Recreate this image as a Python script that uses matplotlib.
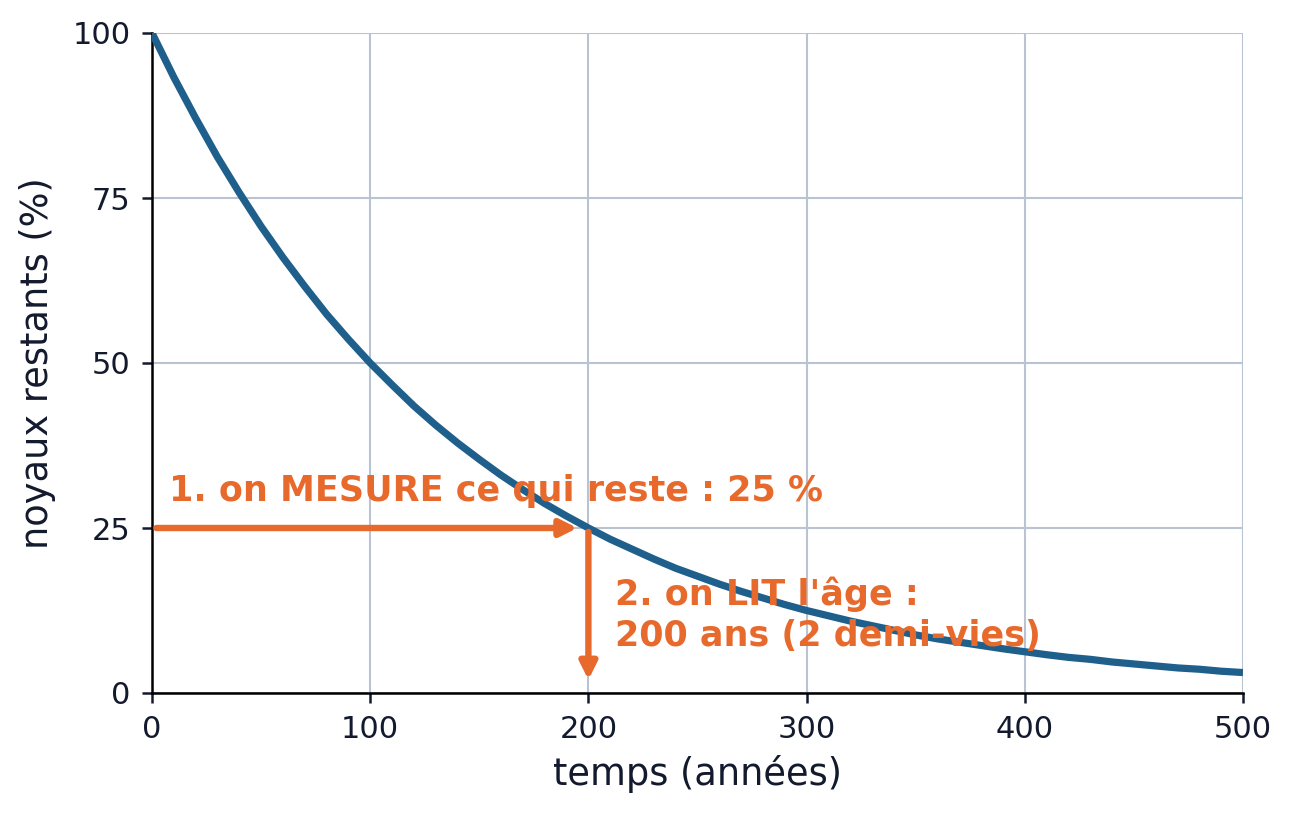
import matplotlib.pyplot as plt

# Values (every 10 years)
years = list(range(0, 501, 10))
remaining = [100, 93.3, 87.1, 81.2, 75.8, 70.7, 66.0, 61.6, 57.4, 53.6,
             50, 46.7, 43.5, 40.6, 37.9, 35.4, 33.0, 30.8, 28.7, 26.8,
             25, 23.3, 21.8, 20.3, 18.9, 17.7, 16.5, 15.4, 14.4, 13.4,
             12.5, 11.7, 10.9, 10.2, 9.5, 8.8, 8.2, 7.7, 7.2, 6.7,
             6.25, 5.8, 5.4, 5.1, 4.7, 4.4, 4.1, 3.8, 3.6, 3.3, 3.1]

measured_pct = 25
read_age = 200
xticks = [0, 100, 200, 300, 400, 500]
yticks = [0, 25, 50, 75, 100]

blue = "#1f5f8b"
orange = "#e8692c"
ink = "#141a2e"
grid = "#b9c3d1"

fig = plt.figure(figsize=(12.95, 8.19), dpi=100)
ax = fig.add_axes([152 / 1295, 1 - 693 / 819, 1091 / 1295, 660 / 819])

ax.plot(years, remaining, color=blue, linewidth=5.2, solid_capstyle="butt", zorder=3)

head = "-|>,head_length=1.0,head_width=0.5"
# arrow 1: horizontal, measuring 25 %
ax.annotate("", xy=(read_age - 5, measured_pct), xytext=(2, measured_pct),
            arrowprops=dict(arrowstyle=head, color=orange, lw=4.6,
                            capstyle="round", joinstyle="round",
                            shrinkA=0, shrinkB=0), zorder=4)
# arrow 2: vertical, reading the age
ax.annotate("", xy=(read_age, 2), xytext=(read_age, measured_pct - 0.6),
            arrowprops=dict(arrowstyle=head, color=orange, lw=4.6,
                            capstyle="round", joinstyle="round",
                            shrinkA=0, shrinkB=0), zorder=4)

ax.text(8, 30.6, "1. on MESURE ce qui reste : 25 %", color=orange,
        fontsize=25.2, fontweight="bold", va="center", ha="left", zorder=5)
ax.text(212, 11.8, "2. on LIT l'âge :\n200 ans (2 demi-vies)", color=orange,
        fontsize=25.2, fontweight="bold", va="center", ha="left",
        linespacing=1.25, zorder=5)

ax.set_xlim(0, 500)
ax.set_ylim(0, 100)
ax.set_xticks(xticks)
ax.set_yticks(yticks)
ax.grid(True, color=grid, linewidth=1.5, zorder=0)
ax.set_axisbelow(True)
for s in ["top", "right"]:
    ax.spines[s].set_visible(False)
for s in ["left", "bottom"]:
    ax.spines[s].set_linewidth(1.8)
    ax.spines[s].set_color("black")
ax.tick_params(labelsize=22, labelcolor=ink, color=ink, length=7.5, width=1.8, pad=8)

ax.set_xlabel("temps (années)", fontsize=26.5, color=ink, labelpad=8)
ax.set_ylabel("noyaux restants (%)", fontsize=26.5, color=ink, labelpad=12)

fig.savefig("out.png", dpi=100)
